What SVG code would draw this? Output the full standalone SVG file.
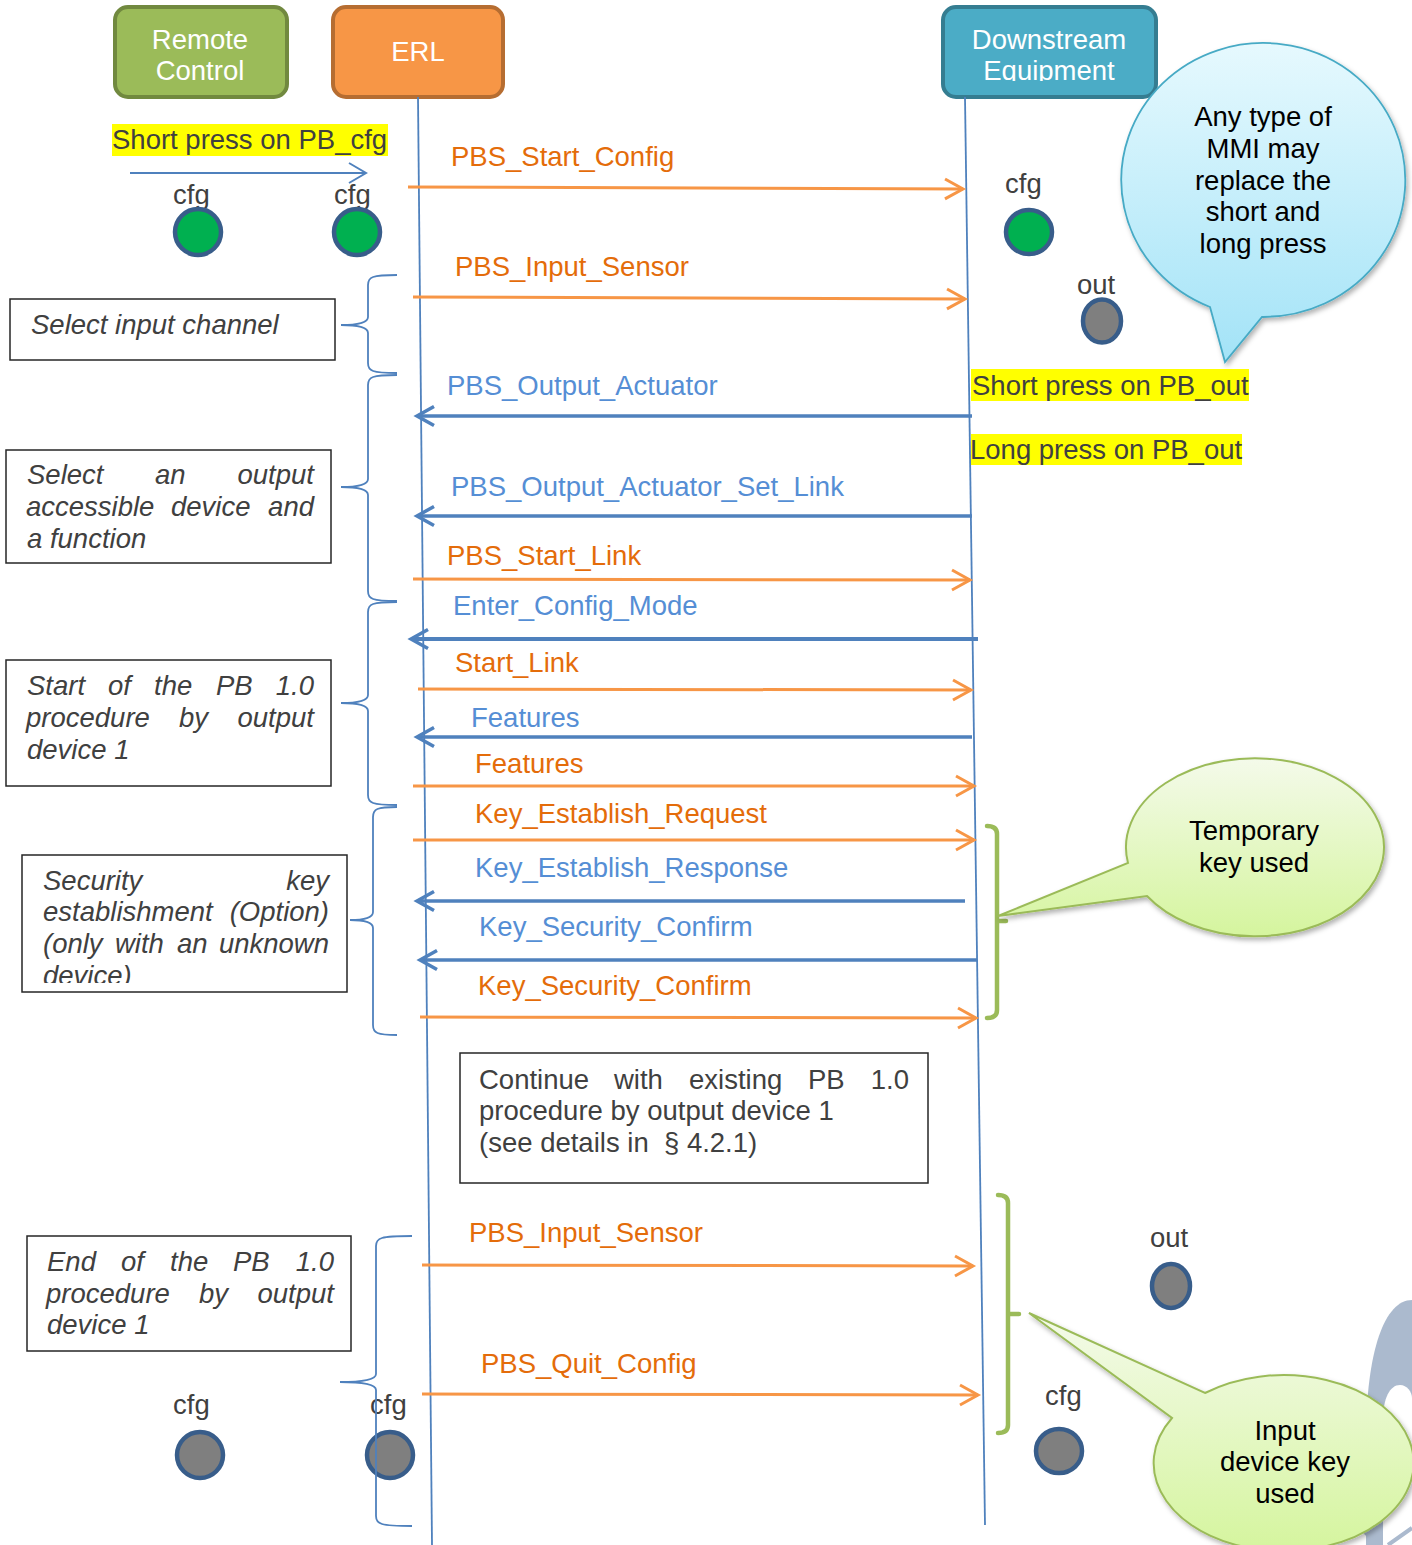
<svg xmlns="http://www.w3.org/2000/svg" width="1412" height="1545" viewBox="0 0 1412 1545">
<defs>
<style>
text{font-family:"Liberation Sans",Arial,sans-serif;font-size:27.5px}
.hdr{fill:#ffffff;text-anchor:middle}
.lbl{fill:#404040}
.it{fill:#404040;font-style:italic}
.end{text-anchor:end}
.mo{fill:#E46C0A}
.mb{fill:#558ED5}
.lo{stroke:#F79646;stroke-width:3;fill:none;marker-end:url(#ao)}
.lb{stroke:#4F81BD;stroke-width:3.5;fill:none;marker-end:url(#ab)}
.life{stroke:#4F81BD;stroke-width:1.8;fill:none}
.brace{stroke:#4F81BD;stroke-width:1.8;fill:none}
.gbr{stroke:#9BBB59;stroke-width:4.5;fill:none;stroke-linecap:round}
.box{fill:#ffffff;stroke:#262626;stroke-width:1.5}
.led{stroke:#385D8A;stroke-width:4.5}
.on{fill:#00B050}
.off{fill:#7F7F7F}
.hl{fill:#FFFF00}
.bt{fill:#000000;text-anchor:middle}
</style>
<marker id="ao" markerUnits="userSpaceOnUse" markerWidth="26" markerHeight="28" viewBox="0 0 26 28" refX="22" refY="14" orient="auto">
<path d="M4,4 L22,14 L4,24" fill="none" stroke="#F79646" stroke-width="3"/>
</marker>
<marker id="ab" markerUnits="userSpaceOnUse" markerWidth="26" markerHeight="28" viewBox="0 0 26 28" refX="22" refY="14" orient="auto">
<path d="M5,4.5 L22,14 L5,23.5" fill="none" stroke="#4F81BD" stroke-width="3.5"/>
</marker>
<marker id="at" markerUnits="userSpaceOnUse" markerWidth="24" markerHeight="26" viewBox="0 0 24 26" refX="20" refY="13" orient="auto">
<path d="M3,3 L20,13 L3,23" fill="none" stroke="#4F81BD" stroke-width="2"/>
</marker>
<linearGradient id="gBlue" x1="0" y1="0" x2="0" y2="1">
<stop offset="0" stop-color="#E6F9FE"/>
<stop offset="1" stop-color="#A3E3F7"/>
</linearGradient>
<linearGradient id="gGreen" x1="0" y1="0" x2="0" y2="1">
<stop offset="0" stop-color="#F4FAEA"/>
<stop offset="1" stop-color="#D5F59E"/>
</linearGradient>
<filter id="sh" x="-20%" y="-20%" width="140%" height="140%">
<feDropShadow dx="2" dy="3" stdDeviation="2.5" flood-color="#000000" flood-opacity="0.3"/>
</filter>
<clipPath id="clipEq"><rect x="942" y="0" width="216" height="81"/></clipPath>
<clipPath id="clipSec"><rect x="22" y="855" width="325" height="128"/></clipPath>
</defs>

<rect width="1412" height="1545" fill="#ffffff"/>

<!-- decorative partial shape bottom right -->
<g id="partial-shape">
<path d="M1366 1545 L1366 1440 C1366 1350 1385 1300 1412 1300 L1412 1545 Z" fill="#ABBACE"/>
<path d="M1383 1545 L1383 1420 C1383 1398 1390 1385 1400 1385 C1407 1385 1412 1392 1412 1398 L1412 1545 Z" fill="#ffffff"/>
<path d="M1360 1527 L1378 1545 M1412 1528 L1388 1545" stroke="#ABBACE" stroke-width="4" fill="none"/>
</g>

<!-- headers -->
<g id="remote-control">
<rect x="115" y="7" width="172" height="90" rx="13" fill="#9BBB59" stroke="#71893F" stroke-width="4"/>
<text class="hdr" x="200" y="49">Remote</text>
<text class="hdr" x="200" y="80">Control</text>
</g>
<g id="erl">
<rect x="333" y="7" width="170" height="90" rx="13" fill="#F79646" stroke="#B66D31" stroke-width="4"/>
<text class="hdr" x="418" y="61">ERL</text>
</g>
<g id="downstream-equipment">
<rect x="943" y="7" width="213" height="90" rx="13" fill="#4BACC6" stroke="#357D91" stroke-width="4"/>
<text class="hdr" x="1049" y="49">Downstream</text>
<text class="hdr" x="1049" y="80" clip-path="url(#clipEq)">Equipment</text>
</g>

<!-- lifelines -->
<g id="lifelines">
<line class="life" x1="418" y1="97" x2="432" y2="1545"/>
<line class="life" x1="965" y1="97" x2="985" y2="1525"/>
</g>

<!-- remote control local press -->
<g id="short-press-cfg">
<rect class="hl" x="112" y="124" width="276" height="32"/>
<text class="lbl" x="112" y="149">Short press on PB_cfg</text>
<line x1="130" y1="173" x2="366" y2="173" stroke="#4F81BD" stroke-width="2" marker-end="url(#at)"/>
</g>

<!-- LEDs -->
<g id="led-rc-cfg-top">
<text class="lbl" x="173" y="204">cfg</text>
<circle class="led on" cx="198" cy="232" r="23"/>
</g>
<g id="led-erl-cfg-top">
<text class="lbl" x="334" y="204">cfg</text>
<circle class="led on" cx="357" cy="232" r="23"/>
</g>
<g id="led-de-cfg-top">
<text class="lbl" x="1005" y="193">cfg</text>
<ellipse class="led on" cx="1029" cy="232" rx="23" ry="22"/>
</g>
<g id="led-de-out-top">
<text class="lbl" x="1077" y="294">out</text>
<ellipse class="led off" cx="1102" cy="321" rx="19" ry="21.5"/>
</g>
<g id="led-rc-cfg-bottom">
<text class="lbl" x="173" y="1414">cfg</text>
<circle class="led off" cx="200" cy="1455" r="23"/>
</g>
<g id="led-erl-cfg-bottom">
<circle class="led off" cx="390" cy="1455" r="23"/>
<text class="lbl" x="370" y="1414">cfg</text>
</g>
<g id="led-de-out-bottom">
<text class="lbl" x="1150" y="1247">out</text>
<ellipse class="led off" cx="1171" cy="1286" rx="19" ry="22"/>
</g>
<g id="led-de-cfg-bottom">
<text class="lbl" x="1045" y="1405">cfg</text>
<ellipse class="led off" cx="1059" cy="1451" rx="23" ry="22"/>
</g>

<!-- PB_out highlights -->
<g id="short-press-out">
<rect class="hl" x="971" y="369" width="278" height="32"/>
<text class="lbl" x="972" y="395">Short press on PB_out</text>
</g>
<g id="long-press-out">
<rect class="hl" x="971" y="434" width="271" height="31"/>
<text class="lbl" x="970" y="459">Long press on PB_out</text>
</g>

<!-- left description boxes -->
<g id="box-select-input">
<rect class="box" x="10" y="299" width="325" height="61"/>
<text class="it" x="31" y="334">Select input channel</text>
</g>
<g id="box-select-output">
<rect class="box" x="6" y="450" width="325" height="113"/>
<text class="it" x="27" y="484">Select</text>
<text class="it" x="155" y="484">an</text>
<text class="it end" x="314" y="484">output</text>
<text class="it" x="26" y="516">accessible</text>
<text class="it" x="171" y="516">device</text>
<text class="it end" x="314" y="516">and</text>
<text class="it" x="27" y="548">a function</text>
</g>
<g id="box-start-pb">
<rect class="box" x="6" y="660" width="325" height="126"/>
<text class="it" x="27" y="695">Start</text>
<text class="it" x="108" y="695">of</text>
<text class="it" x="154" y="695">the</text>
<text class="it" x="216" y="695">PB</text>
<text class="it end" x="314" y="695">1.0</text>
<text class="it" x="26" y="727">procedure</text>
<text class="it" x="179" y="727">by</text>
<text class="it end" x="314" y="727">output</text>
<text class="it" x="27" y="759">device 1</text>
</g>
<g id="box-security">
<rect class="box" x="22" y="855" width="325" height="137"/>
<g clip-path="url(#clipSec)">
<text class="it" x="43" y="890">Security</text>
<text class="it end" x="329" y="890">key</text>
<text class="it" x="43" y="921">establishment</text>
<text class="it end" x="329" y="921">(Option)</text>
<text class="it" x="43" y="953">(only</text>
<text class="it" x="115" y="953">with</text>
<text class="it" x="177" y="953">an</text>
<text class="it end" x="329" y="953">unknown</text>
<text class="it" x="43" y="985">device)</text>
</g>
</g>
<g id="box-end-pb">
<rect class="box" x="27" y="1236" width="324" height="115"/>
<text class="it" x="47" y="1271">End</text>
<text class="it" x="121" y="1271">of</text>
<text class="it" x="170" y="1271">the</text>
<text class="it" x="233" y="1271">PB</text>
<text class="it end" x="334" y="1271">1.0</text>
<text class="it" x="46" y="1303">procedure</text>
<text class="it" x="199" y="1303">by</text>
<text class="it end" x="334" y="1303">output</text>
<text class="it" x="47" y="1334">device 1</text>
</g>

<!-- continue box -->
<g id="box-continue">
<rect class="box" x="460" y="1053" width="468" height="130"/>
<text class="lbl" x="479" y="1089">Continue</text>
<text class="lbl" x="614" y="1089">with</text>
<text class="lbl" x="689" y="1089">existing</text>
<text class="lbl" x="808" y="1089">PB</text>
<text class="lbl end" x="909" y="1089">1.0</text>
<text class="lbl" x="479" y="1120">procedure by output device 1</text>
<text class="lbl" x="479" y="1152">(see details in &#160;§ 4.2.1)</text>
</g>

<!-- braces -->
<g id="braces">
<path class="brace" d="M397 275 C372 275 368 277 368 285 L368 317 C368 322 360 325 341 325 C360 325 368 328 368 333 L368 363 C368 371 372 373 397 373"/>
<path class="brace" d="M397 375 C372 375 368 377 368 385 L368 479 C368 484 360 487 341 487 C360 487 368 490 368 495 L368 591 C368 599 372 601 397 601"/>
<path class="brace" d="M397 602 C372 602 368 604 368 612 L368 695 C368 700 360 703 341 703 C360 703 368 706 368 711 L368 795 C368 803 372 805 397 805"/>
<path class="brace" d="M397 807 C377 807 373 809 373 817 L373 912 C373 917 366 920 350 920 C366 920 373 923 373 928 L373 1025 C373 1033 377 1035 397 1035"/>
<path class="brace" d="M412 1236 C380 1236 376 1238 376 1246 L376 1374 C376 1379 367 1382 340 1382 C367 1382 376 1385 376 1390 L376 1516 C376 1524 380 1526 412 1526"/>
</g>

<!-- green brackets -->
<g id="green-brackets">
<path class="gbr" d="M987 826 Q997 826 997 834 L997 1010 Q997 1018 987 1018 M997 921 L1006 921"/>
<path class="gbr" d="M998 1195 Q1008 1195 1008 1203 L1008 1425 Q1008 1433 998 1433 M1008 1314 L1019 1314"/>
</g>

<!-- messages -->
<g id="connectors">
<line class="lo" x1="408" y1="187" x2="963" y2="189"/>
<text class="mo" x="451" y="166">PBS_Start_Config</text>
<line class="lo" x1="413" y1="297" x2="965" y2="299"/>
<text class="mo" x="455" y="276">PBS_Input_Sensor</text>
<line class="lb" x1="972" y1="416" x2="417" y2="416"/>
<text class="mb" x="447" y="395">PBS_Output_Actuator</text>
<line class="lb" x1="972" y1="516" x2="417" y2="516"/>
<text class="mb" x="451" y="496">PBS_Output_Actuator_Set_Link</text>
<line class="lo" x1="413" y1="579" x2="970" y2="580"/>
<text class="mo" x="447" y="565">PBS_Start_Link</text>
<line class="lb" x1="978" y1="639" x2="411" y2="639" style="stroke-width:4"/>
<text class="mb" x="453" y="615">Enter_Config_Mode</text>
<line class="lo" x1="418" y1="689" x2="971" y2="690"/>
<text class="mo" x="455" y="672">Start_Link</text>
<line class="lb" x1="972" y1="737" x2="417" y2="737"/>
<text class="mb" x="471" y="727">Features</text>
<line class="lo" x1="413" y1="786" x2="974" y2="786"/>
<text class="mo" x="475" y="773">Features</text>
<line class="lo" x1="413" y1="840" x2="974" y2="840"/>
<text class="mo" x="475" y="823">Key_Establish_Request</text>
<line class="lb" x1="965" y1="901" x2="417" y2="901"/>
<text class="mb" x="475" y="877">Key_Establish_Response</text>
<line class="lb" x1="977" y1="960" x2="420" y2="960"/>
<text class="mb" x="479" y="936">Key_Security_Confirm</text>
<line class="lo" x1="420" y1="1017" x2="976" y2="1018"/>
<text class="mo" x="478" y="995">Key_Security_Confirm</text>
<line class="lo" x1="422" y1="1265" x2="973" y2="1266"/>
<text class="mo" x="469" y="1242">PBS_Input_Sensor</text>
<line class="lo" x1="422" y1="1394" x2="978" y2="1395"/>
<text class="mo" x="481" y="1373">PBS_Quit_Config</text>
</g>

<!-- callouts -->
<g id="callout-mmi">
<path d="M1210 307 A142 137 0 1 1 1262 317 L1225 362 Z" fill="url(#gBlue)" stroke="#46AAC5" stroke-width="1.8" filter="url(#sh)"/>
<text class="bt" x="1263" y="126">Any type of</text>
<text class="bt" x="1263" y="158">MMI may</text>
<text class="bt" x="1263" y="190">replace the</text>
<text class="bt" x="1263" y="221">short and</text>
<text class="bt" x="1263" y="253">long press</text>
</g>
<g id="callout-temporary-key">
<path d="M1128 863 A129 89 0 1 1 1147 896 L998 916 Z" fill="url(#gGreen)" stroke="#9BBB59" stroke-width="2" filter="url(#sh)"/>
<text class="bt" x="1254" y="840">Temporary</text>
<text class="bt" x="1254" y="872">key used</text>
</g>
<g id="callout-input-key">
<path d="M1205 1393 A130 88 0 1 1 1172 1418 L1029 1313 Z" fill="url(#gGreen)" stroke="#9BBB59" stroke-width="2" filter="url(#sh)"/>
<text class="bt" x="1285" y="1440">Input</text>
<text class="bt" x="1285" y="1471">device key</text>
<text class="bt" x="1285" y="1503">used</text>
</g>
</svg>
